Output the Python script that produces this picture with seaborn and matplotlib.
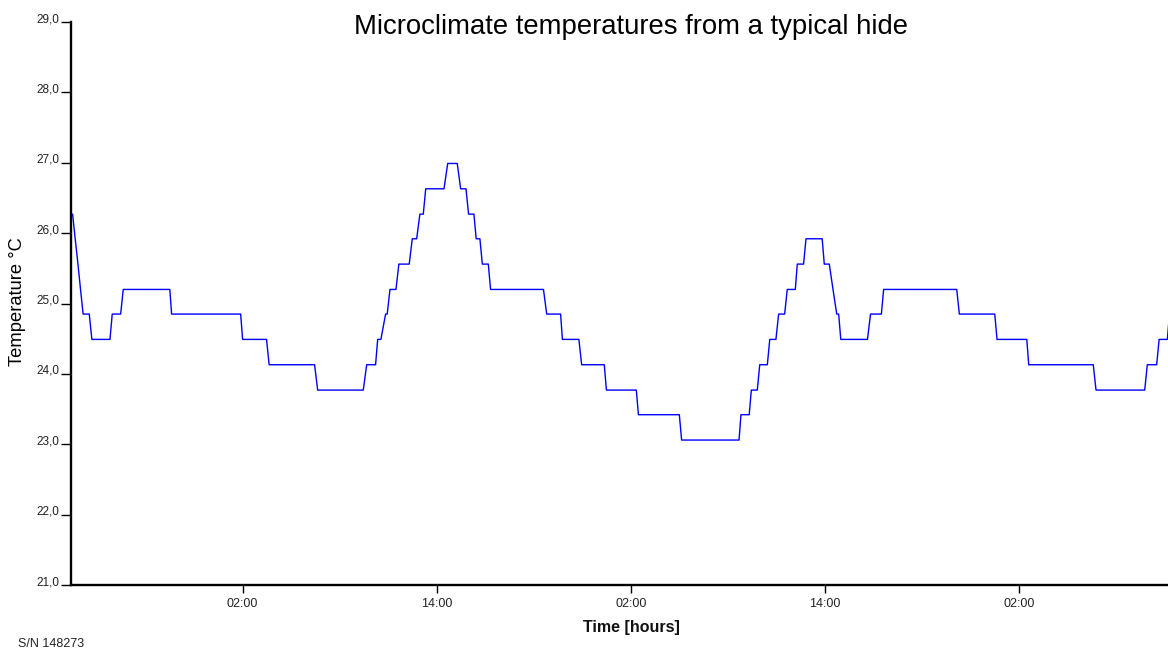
import matplotlib
matplotlib.use("Agg")
import matplotlib.pyplot as plt
from matplotlib import font_manager
import seaborn as sns
import pandas as pd

# Logged hide temperature: vertex times (hours from midnight of day 0) and readings (°C)
hours = [15.49, 15.65, 15.82, 15.98, 16.14, 16.52, 16.68, 17.80, 17.94, 18.46,
         18.62, 21.50, 21.61, 25.88, 26.00, 27.48, 27.64, 30.45, 30.64, 33.46,
         33.67, 34.22, 34.35, 34.55, 34.84, 34.94, 35.11, 35.48, 35.66, 36.30,
         36.49, 36.76, 36.96, 37.17, 37.32, 38.45, 38.68, 39.27, 39.48, 39.81,
         39.97, 40.30, 40.44, 40.67, 40.82, 41.19, 41.33, 44.60, 44.80, 45.66,
         45.77, 46.79, 46.96, 48.36, 48.49, 50.34, 50.47, 53.00, 53.14, 56.69,
         56.81, 57.32, 57.45, 57.82, 57.97, 58.44, 58.59, 58.97, 59.14, 59.51,
         59.67, 60.17, 60.29, 60.68, 60.83, 61.83, 61.96, 62.27, 62.50, 62.73,
         62.85, 62.98, 64.63, 64.82, 65.49, 65.63, 70.15, 70.31, 72.50, 72.64,
         74.48, 74.60, 78.59, 78.76, 81.77, 81.93, 82.51, 82.66, 83.17, 83.30]
temps = [26.27, 25.92, 25.56, 25.20, 24.85, 24.85, 24.49, 24.49, 24.85, 24.85,
         25.20, 25.20, 24.85, 24.85, 24.49, 24.49, 24.13, 24.13, 23.77, 23.77,
         24.13, 24.13, 24.49, 24.49, 24.85, 24.85, 25.20, 25.20, 25.56, 25.56,
         25.92, 25.92, 26.27, 26.27, 26.63, 26.63, 26.99, 26.99, 26.63, 26.63,
         26.27, 26.27, 25.92, 25.92, 25.56, 25.56, 25.20, 25.20, 24.85, 24.85,
         24.49, 24.49, 24.13, 24.13, 23.77, 23.77, 23.42, 23.42, 23.06, 23.06,
         23.42, 23.42, 23.77, 23.77, 24.13, 24.13, 24.49, 24.49, 24.85, 24.85,
         25.20, 25.20, 25.56, 25.56, 25.92, 25.92, 25.56, 25.56, 25.20, 24.85,
         24.85, 24.49, 24.49, 24.85, 24.85, 25.20, 25.20, 24.85, 24.85, 24.49,
         24.49, 24.13, 24.13, 23.77, 23.77, 24.13, 24.13, 24.49, 24.49, 24.85]

x_ticks = [26, 38, 50, 62, 74]
x_labels = ["02:00", "14:00", "02:00", "14:00", "02:00"]
y_ticks = [21, 22, 23, 24, 25, 26, 27, 28, 29]
y_labels = ["21,0", "22,0", "23,0", "24,0", "25,0", "26,0", "27,0", "28,0", "29,0"]

sns.set_theme(style="white")
available = {f.name for f in font_manager.fontManager.ttflist}
base = "Liberation Sans" if "Liberation Sans" in available else "DejaVu Sans"
narrow = "Liberation Sans Narrow" if "Liberation Sans Narrow" in available else base
plt.rcParams["font.family"] = [base, "DejaVu Sans"]

df = pd.DataFrame({"hour": hours, "temp": temps})

fig = plt.figure(figsize=(11.68, 6.53), dpi=100)
fig.patch.set_facecolor("white")
ax = fig.add_axes([0.0605, 0.1041, 0.9395, 0.8622])
ax.set_facecolor("white")

sns.lineplot(data=df, x="hour", y="temp", ax=ax, color="#0000ff",
             linewidth=1.0, estimator=None, sort=False)

ax.set_xlim(15.37, 83.21)
ax.set_ylim(21, 29)

for side in ("top", "right"):
    ax.spines[side].set_visible(False)
for side in ("left", "bottom"):
    ax.spines[side].set_color("black")
    ax.spines[side].set_linewidth(1.7)

ax.set_xticks(x_ticks)
ax.set_xticklabels(x_labels, fontsize=9, family=[narrow, "DejaVu Sans"], color="#222222")
ax.set_yticks(y_ticks)
ax.set_yticklabels(y_labels, fontsize=8.5, family=[narrow, "DejaVu Sans"],
                   color="#222222", va="baseline")
ax.tick_params(axis="x", direction="out", length=6, width=1, color="black",
               pad=3, bottom=True)
ax.tick_params(axis="y", direction="out", length=7, width=1, color="black",
               pad=1, left=True)

ax.set_xlabel("")
ax.set_ylabel("")
ax.grid(False)

fig.text(0.5403, 0.9480, "Microclimate temperatures from a typical hide",
         fontsize=19.8, ha="center", va="baseline", color="black")
fig.text(0.5403, 0.0384, "Time [hours]", fontsize=11.5, fontweight="bold",
         ha="center", va="center", color="#111111")
fig.text(0.0150, 0.538, "Temperature °C", fontsize=13.2, rotation=90,
         ha="center", va="center", color="black")
fig.text(0.0155, 0.0133, "S/N 148273", fontsize=9, ha="left", va="center",
         family=[narrow, "DejaVu Sans"], color="#222222")

fig.savefig("out.png", dpi=100, facecolor="white")
